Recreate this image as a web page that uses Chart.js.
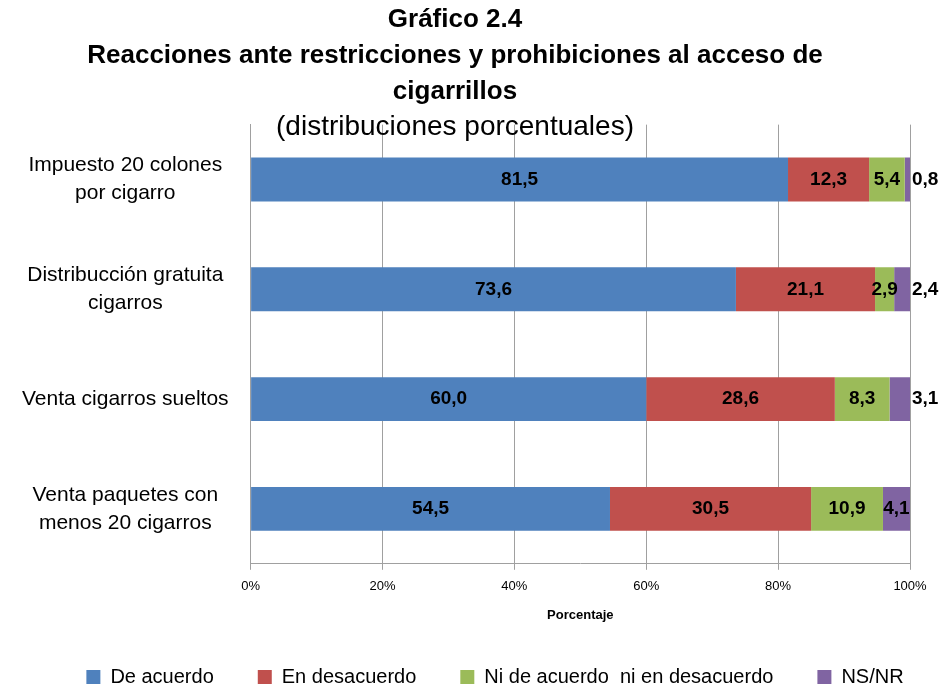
<!DOCTYPE html>
<html>
<head>
<meta charset="utf-8">
<script src="https://cdn.jsdelivr.net/npm/chart.js@4"></script>
<style>
  html, body { margin: 0; padding: 0; background: #fff; }
  #wrap { width: 945px; height: 686px; }
</style>
</head>
<body>
<div id="wrap"><canvas id="chart"></canvas></div>
<script>
const categories = [
    ['Impuesto 20 colones', 'por cigarro'],
    ['Distribucción gratuita', 'cigarros'],
    'Venta cigarros sueltos',
    ['Venta paquetes con', 'menos 20 cigarros']
];
const deAcuerdo = [81.5, 73.6, 60.0, 54.5];
const enDesacuerdo = [12.3, 21.1, 28.6, 30.5];
const niNi = [5.4, 2.9, 8.3, 10.9];
const nsNr = [0.8, 2.4, 3.1, 4.1];
const xTicks = [0, 20, 40, 60, 80, 100];

const FONT = 'Liberation Sans, Arial, sans-serif';

// values printed on the bars, small NS/NR ones go next to the bar end
const barLabels = {
    id: 'barLabels',
    afterDatasetsDraw(chart) {
        const ctx = chart.ctx;
        ctx.save();
        ctx.font = 'bold 19px ' + FONT;
        ctx.fillStyle = '#000';
        ctx.textBaseline = 'middle';
        chart.data.datasets.forEach((ds, di) => {
            const meta = chart.getDatasetMeta(di);
            meta.data.forEach((bar, i) => {
                const v = ds.data[i];
                const txt = v.toFixed(1).replace('.', ',');
                const left = Math.min(bar.x, bar.base);
                const right = Math.max(bar.x, bar.base);
                if (di === 3 && v < 4) {
                    ctx.textAlign = 'left';
                    ctx.fillText(txt, right + 2, bar.y);
                } else {
                    ctx.textAlign = 'center';
                    ctx.fillText(txt, (left + right) / 2, bar.y);
                }
            });
        });
        ctx.restore();
    }
};

// legend in the original sits a bit right of the plot centre
const legendShift = {
    id: 'legendShift',
    afterLayout(chart) {
        chart.legend.left += 40;
        chart.legend.right += 40;
    }
};

new Chart(document.getElementById('chart'), {
    type: 'bar',
    data: {
        labels: categories,
        datasets: [
            { label: 'De acuerdo', data: deAcuerdo, backgroundColor: '#4F81BD' },
            { label: 'En desacuerdo', data: enDesacuerdo, backgroundColor: '#C0504D' },
            { label: 'Ni de acuerdo  ni en desacuerdo', data: niNi, backgroundColor: '#9BBB59' },
            { label: 'NS/NR', data: nsNr, backgroundColor: '#8064A2' }
        ]
    },
    options: {
        indexAxis: 'y',
        responsive: true,
        maintainAspectRatio: false,
        animation: false,
        barPercentage: 0.4,
        categoryPercentage: 1,
        layout: { padding: { left: 0, right: 35, top: 2, bottom: -11 } },
        plugins: {
            title: {
                display: true,
                text: ['Gráfico 2.4', 'Reacciones ante restricciones y prohibiciones al acceso de', 'cigarrillos'],
                color: '#000',
                font: { family: FONT, size: 26, weight: 'bold', lineHeight: 1.385 },
                padding: { top: 0, bottom: 0 }
            },
            subtitle: {
                display: true,
                text: '(distribuciones porcentuales)',
                color: '#000',
                font: { family: FONT, size: 28, weight: 'normal', lineHeight: 1.2 },
                padding: { top: 0, bottom: -19 }
            },
            legend: {
                position: 'bottom',
                labels: {
                    color: '#000',
                    font: { family: FONT, size: 20 },
                    boxWidth: 14,
                    boxHeight: 14,
                    padding: 44
                }
            },
            tooltip: { enabled: false }
        },
        scales: {
            x: {
                stacked: true,
                min: 0,
                max: 100,
                afterBuildTicks(axis) {
                    axis.ticks = xTicks.map(v => ({ value: v }));
                },
                ticks: {
                    color: '#000',
                    font: { family: FONT, size: 13 },
                    padding: 9,
                    callback: v => v + '%'
                },
                grid: { color: '#A0A0A0', tickLength: 6, drawTicks: true },
                border: { color: '#A0A0A0' },
                title: {
                    display: true,
                    text: 'Porcentaje',
                    color: '#000',
                    font: { family: FONT, size: 13, weight: 'bold' },
                    padding: { top: 4, bottom: 0 }
                }
            },
            y: {
                stacked: true,
                ticks: {
                    color: '#000',
                    font: { family: FONT, size: 21, lineHeight: 1.33 },
                    crossAlign: 'center',
                    padding: 22
                },
                grid: { display: false, drawTicks: false },
                border: { color: '#A0A0A0' }
            }
        }
    },
    plugins: [barLabels, legendShift]
});
</script>
</body>
</html>
